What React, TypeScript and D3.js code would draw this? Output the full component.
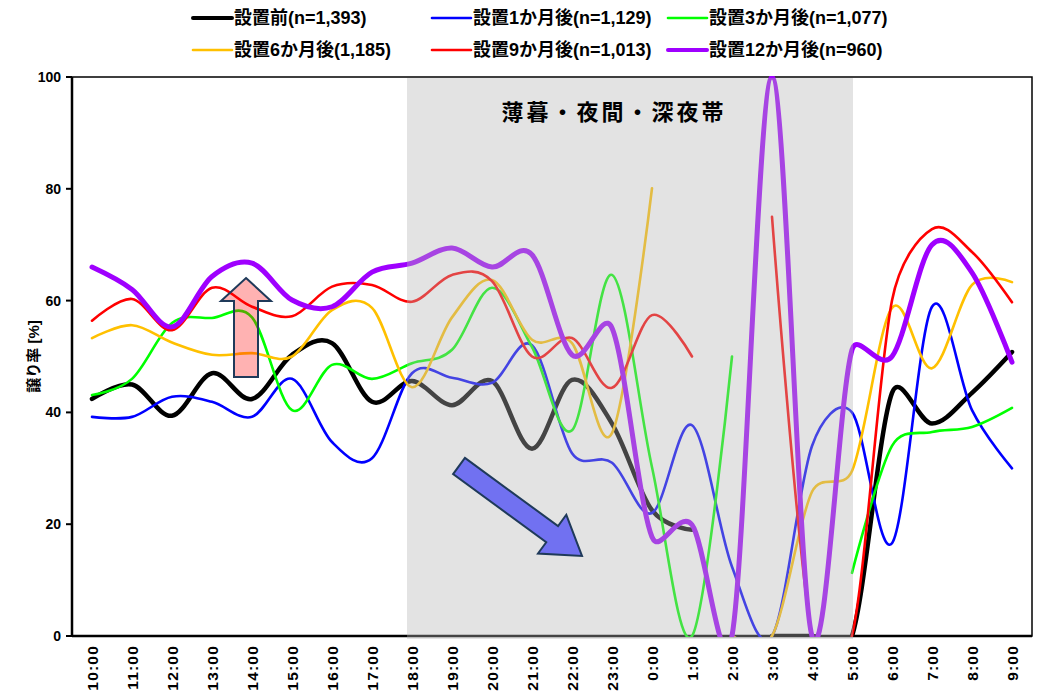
import React, { useEffect, useRef } from "react";
import * as d3 from "d3";

// Hour slots, from 10:00 through to 9:00 the next morning
const hours = [
  "10:00", "11:00", "12:00", "13:00", "14:00", "15:00", "16:00", "17:00",
  "18:00", "19:00", "20:00", "21:00", "22:00", "23:00", "0:00", "1:00",
  "2:00", "3:00", "4:00", "5:00", "6:00", "7:00", "8:00", "9:00",
];

// Yield rate [%] per hour; null = no observation in that slot
const before = [42.4, 45, 39.4, 47, 42.4, 50.3, 52.4, 41.9, 45.6, 41.3, 45.6, 33.5, 45.8, 38, 22.5, 19, null, 0, 0, 0, 43.5, 38, 43.5, 50.8];
const month1 = [39.2, 39.2, 42.8, 41.9, 39.2, 46, 34.7, 31.8, 47, 46.2, 45.3, 52, 32.7, 31, 22, 37.7, 12.4, 0, 34, 40, 16.6, 58.9, 40.4, 30];
const month3 = [43.1, 46, 56, 56.9, 57, 40.4, 48.5, 46, 48.8, 51.2, 62.3, 51.7, 36.8, 64.6, 30.2, 0, 50, null, null, 11.3, 34, 36.5, 37.4, 40.8];
const month6 = [53.3, 55.6, 52.5, 50.3, 50.6, 50, 58.3, 58.7, 44.5, 57, 63.7, 53, 52.4, 36.3, 80.1, null, 0, 0, 25.8, 29.5, 58.7, 47.9, 62.8, 63.3];
const month9 = [56.4, 60.3, 54.7, 62.3, 58.9, 57.2, 62.5, 62.8, 59.8, 64.6, 63.5, 50, 53.3, 44.4, 57.4, 50, null, 75, 0, 0, 60, 72.8, 68.7, 59.7];
const month12 = [66, 62, 55.3, 64.3, 66.7, 60.1, 58.9, 65.1, 66.7, 69.4, 66, 68.2, 50.3, 55.1, 17.7, 19.9, 0, 100, 0, 51.2, 50, 70, 65, 49];

const seriesNames = [
  "設置前(n=1,393)",
  "設置1か月後(n=1,129)",
  "設置3か月後(n=1,077)",
  "設置6か月後(1,185)",
  "設置9か月後(n=1,013)",
  "設置12か月後(n=960)",
];
const seriesValues = [before, month1, month3, month6, month9, month12];
const seriesColors = ["#000000", "#0000ff", "#00ff00", "#ffc000", "#ff0000", "#9f00ff"];
const seriesWidths = [4.5, 2.6, 2.6, 2.6, 2.6, 5];

const yTicks = [0, 20, 40, 60, 80, 100];
const shadeFrom = "18:00";
const shadeTo = "5:00";
const shadeLabel = "薄暮・夜間・深夜帯";
const yTitle = "譲り率 [%]";

const W = 1037;
const H = 698;
const FONT = "'Liberation Sans', Arial, 'Noto Sans CJK JP', sans-serif";

// Cardinal-style smoothing: handles follow the neighbour chord (1/6 of it),
// each capped at half of the segment it points into to limit overshoot.
function smoothCurve(context: any) {
  let pts: [number, number][] = [];
  return {
    areaStart() {},
    areaEnd() {},
    lineStart() { pts = []; },
    point(x: number, y: number) { pts.push([+x, +y]); },
    lineEnd() {
      const n = pts.length;
      if (!n) return;
      context.moveTo(pts[0][0], pts[0][1]);
      if (n === 1) { context.lineTo(pts[0][0], pts[0][1]); return; }
      const dist = (a: [number, number], b: [number, number]) => Math.hypot(b[0] - a[0], b[1] - a[1]);
      const handles = pts.map((p, i) => {
        if (i === 0 || i === n - 1) return { inn: p, out: p };
        const prev = pts[i - 1], next = pts[i + 1];
        const d0 = dist(prev, p), d1 = dist(p, next);
        const tx = next[0] - prev[0], ty = next[1] - prev[1];
        const tl = Math.hypot(tx, ty) || 1;
        const base = tl / 6;
        const li = Math.min(base, d0 * 0.5), lo = Math.min(base, d1 * 0.5);
        const ux = tx / tl, uy = ty / tl;
        return {
          inn: [p[0] - ux * li, p[1] - uy * li] as [number, number],
          out: [p[0] + ux * lo, p[1] + uy * lo] as [number, number],
        };
      });
      for (let i = 0; i < n - 1; i++) {
        const a = handles[i].out, b = handles[i + 1].inn, e = pts[i + 1];
        context.bezierCurveTo(a[0], a[1], b[0], b[1], e[0], e[1]);
      }
    },
  };
}

export default function App() {
  const ref = useRef<SVGSVGElement | null>(null);

  useEffect(() => {
    const svg = d3.select(ref.current);
    svg.selectAll("*").remove();

    const left = 72, right = 1032, top = 77, bottom = 636;
    const x = d3.scalePoint<string>().domain(hours).range([left, right]).padding(0.5);
    const y = d3.scaleLinear().domain([0, 100]).range([bottom, top]);
    const step = x.step();

    svg.append("defs").append("clipPath").attr("id", "plotClip")
      .append("rect").attr("x", left).attr("y", top - 1).attr("width", right - left).attr("height", bottom - top + 2);

    // plot frame
    svg.append("rect").attr("x", left).attr("y", top).attr("width", right - left).attr("height", bottom - top)
      .attr("fill", "none").attr("stroke", "#000").attr("stroke-width", 1.5);
    svg.append("line").attr("x1", left).attr("x2", left).attr("y1", top).attr("y2", bottom + 1)
      .attr("stroke", "#000").attr("stroke-width", 2.5);
    svg.append("line").attr("x1", left).attr("x2", right).attr("y1", bottom).attr("y2", bottom)
      .attr("stroke", "#000").attr("stroke-width", 2.5);

    // y axis ticks and labels
    const yg = svg.append("g");
    yTicks.forEach((t) => {
      yg.append("line").attr("x1", left - 6).attr("x2", left).attr("y1", y(t)).attr("y2", y(t))
        .attr("stroke", "#000").attr("stroke-width", 2);
      yg.append("text").attr("x", left - 11).attr("y", y(t)).attr("dy", "0.35em")
        .attr("text-anchor", "end").attr("font-family", FONT).attr("font-weight", "bold")
        .attr("font-size", 14).text(String(t));
    });
    svg.append("text").attr("transform", `translate(34,${(top + bottom) / 2}) rotate(-90)`)
      .attr("text-anchor", "middle").attr("dy", "0.35em").attr("font-family", FONT)
      .attr("font-weight", "bold").attr("font-size", 15).text(yTitle);

    // x labels, rotated
    hours.forEach((h) => {
      svg.append("text").attr("transform", `translate(${x(h)},${bottom + 9}) rotate(-90)`)
        .attr("text-anchor", "end").attr("dy", "0.36em").attr("font-family", FONT)
        .attr("font-weight", "bold").attr("font-size", 15.5).attr("letter-spacing", 1.2).text(h);
    });

    // series lines
    const lines = svg.append("g").attr("clip-path", "url(#plotClip)");
    seriesValues.forEach((vals, si) => {
      const pts = vals.map((v, i) => ({ h: hours[i], v }));
      const gen = d3.line<{ h: string; v: number | null }>()
        .defined((d) => d.v !== null)
        .x((d) => x(d.h) as number)
        .y((d) => y(d.v as number))
        .curve(smoothCurve as any);
      lines.append("path").attr("d", gen(pts) as string).attr("fill", "none")
        .attr("stroke", seriesColors[si]).attr("stroke-width", seriesWidths[si])
        .attr("stroke-linejoin", "round").attr("stroke-linecap", "round");
    });

    // night-time shading band laid over the lines
    const sx0 = (x(shadeFrom) as number) - step * 0.125;
    const sx1 = (x(shadeTo) as number) + 1;
    svg.append("rect").attr("x", sx0).attr("y", top + 1).attr("width", sx1 - sx0).attr("height", bottom - top + 2)
      .attr("fill", "rgb(181,181,181)").attr("fill-opacity", 0.376);
    svg.append("text").attr("x", (sx0 + sx1) / 2 - 16).attr("y", 112).attr("dy", "0.35em")
      .attr("text-anchor", "middle").attr("font-family", FONT).attr("font-weight", "bold")
      .attr("font-size", 22).attr("letter-spacing", 3).text(shadeLabel);

    // upward arrow (daytime increase)
    const ax = (x("14:00") as number) - 6;
    const upArrow: [number, number][] = [
      [ax, 278], [ax + 25, 301], [ax + 12, 301], [ax + 12, 377], [ax - 12, 377], [ax - 12, 301], [ax - 25, 301],
    ];
    svg.append("path").attr("d", d3.line()(upArrow) + "Z")
      .attr("fill", "rgba(255,0,0,0.3)").attr("stroke", "#1f3a5a").attr("stroke-width", 2);

    // downward diagonal arrow (night-time decrease)
    const tail: [number, number] = [459, 466];
    const tip: [number, number] = [582, 556];
    const ang = Math.atan2(tip[1] - tail[1], tip[0] - tail[0]);
    const len = Math.hypot(tip[0] - tail[0], tip[1] - tail[1]);
    const headLen = 37, shaftHalf = 10, headHalf = 24;
    const local: [number, number][] = [
      [0, -shaftHalf], [len - headLen, -shaftHalf], [len - headLen, -headHalf], [len, 0],
      [len - headLen, headHalf], [len - headLen, shaftHalf], [0, shaftHalf],
    ];
    const rot = local.map(([u, v]) => [
      tail[0] + u * Math.cos(ang) - v * Math.sin(ang),
      tail[1] + u * Math.sin(ang) + v * Math.cos(ang),
    ] as [number, number]);
    svg.append("path").attr("d", d3.line()(rot) + "Z")
      .attr("fill", "rgba(0,0,255,0.5)").attr("stroke", "#1f3a5a").attr("stroke-width", 2);

    // legend
    const legCols = [193, 432, 668];
    const legRows = [18, 50];
    seriesNames.forEach((name, i) => {
      const lx = legCols[i % 3];
      const ly = legRows[Math.floor(i / 3)];
      svg.append("line").attr("x1", lx).attr("x2", lx + 39).attr("y1", ly).attr("y2", ly)
        .attr("stroke", seriesColors[i]).attr("stroke-width", i === 0 || i === 5 ? 4 : 2.6)
        .attr("stroke-linecap", "round");
      svg.append("text").attr("x", lx + 41).attr("y", ly).attr("dy", "0.35em")
        .attr("font-family", FONT).attr("font-weight", "bold").attr("font-size", 18).text(name);
    });
  }, []);

  return (
    <svg ref={ref} width={W} height={H} style={{ position: "absolute", left: 0, top: 0, background: "#fff" }} />
  );
}
